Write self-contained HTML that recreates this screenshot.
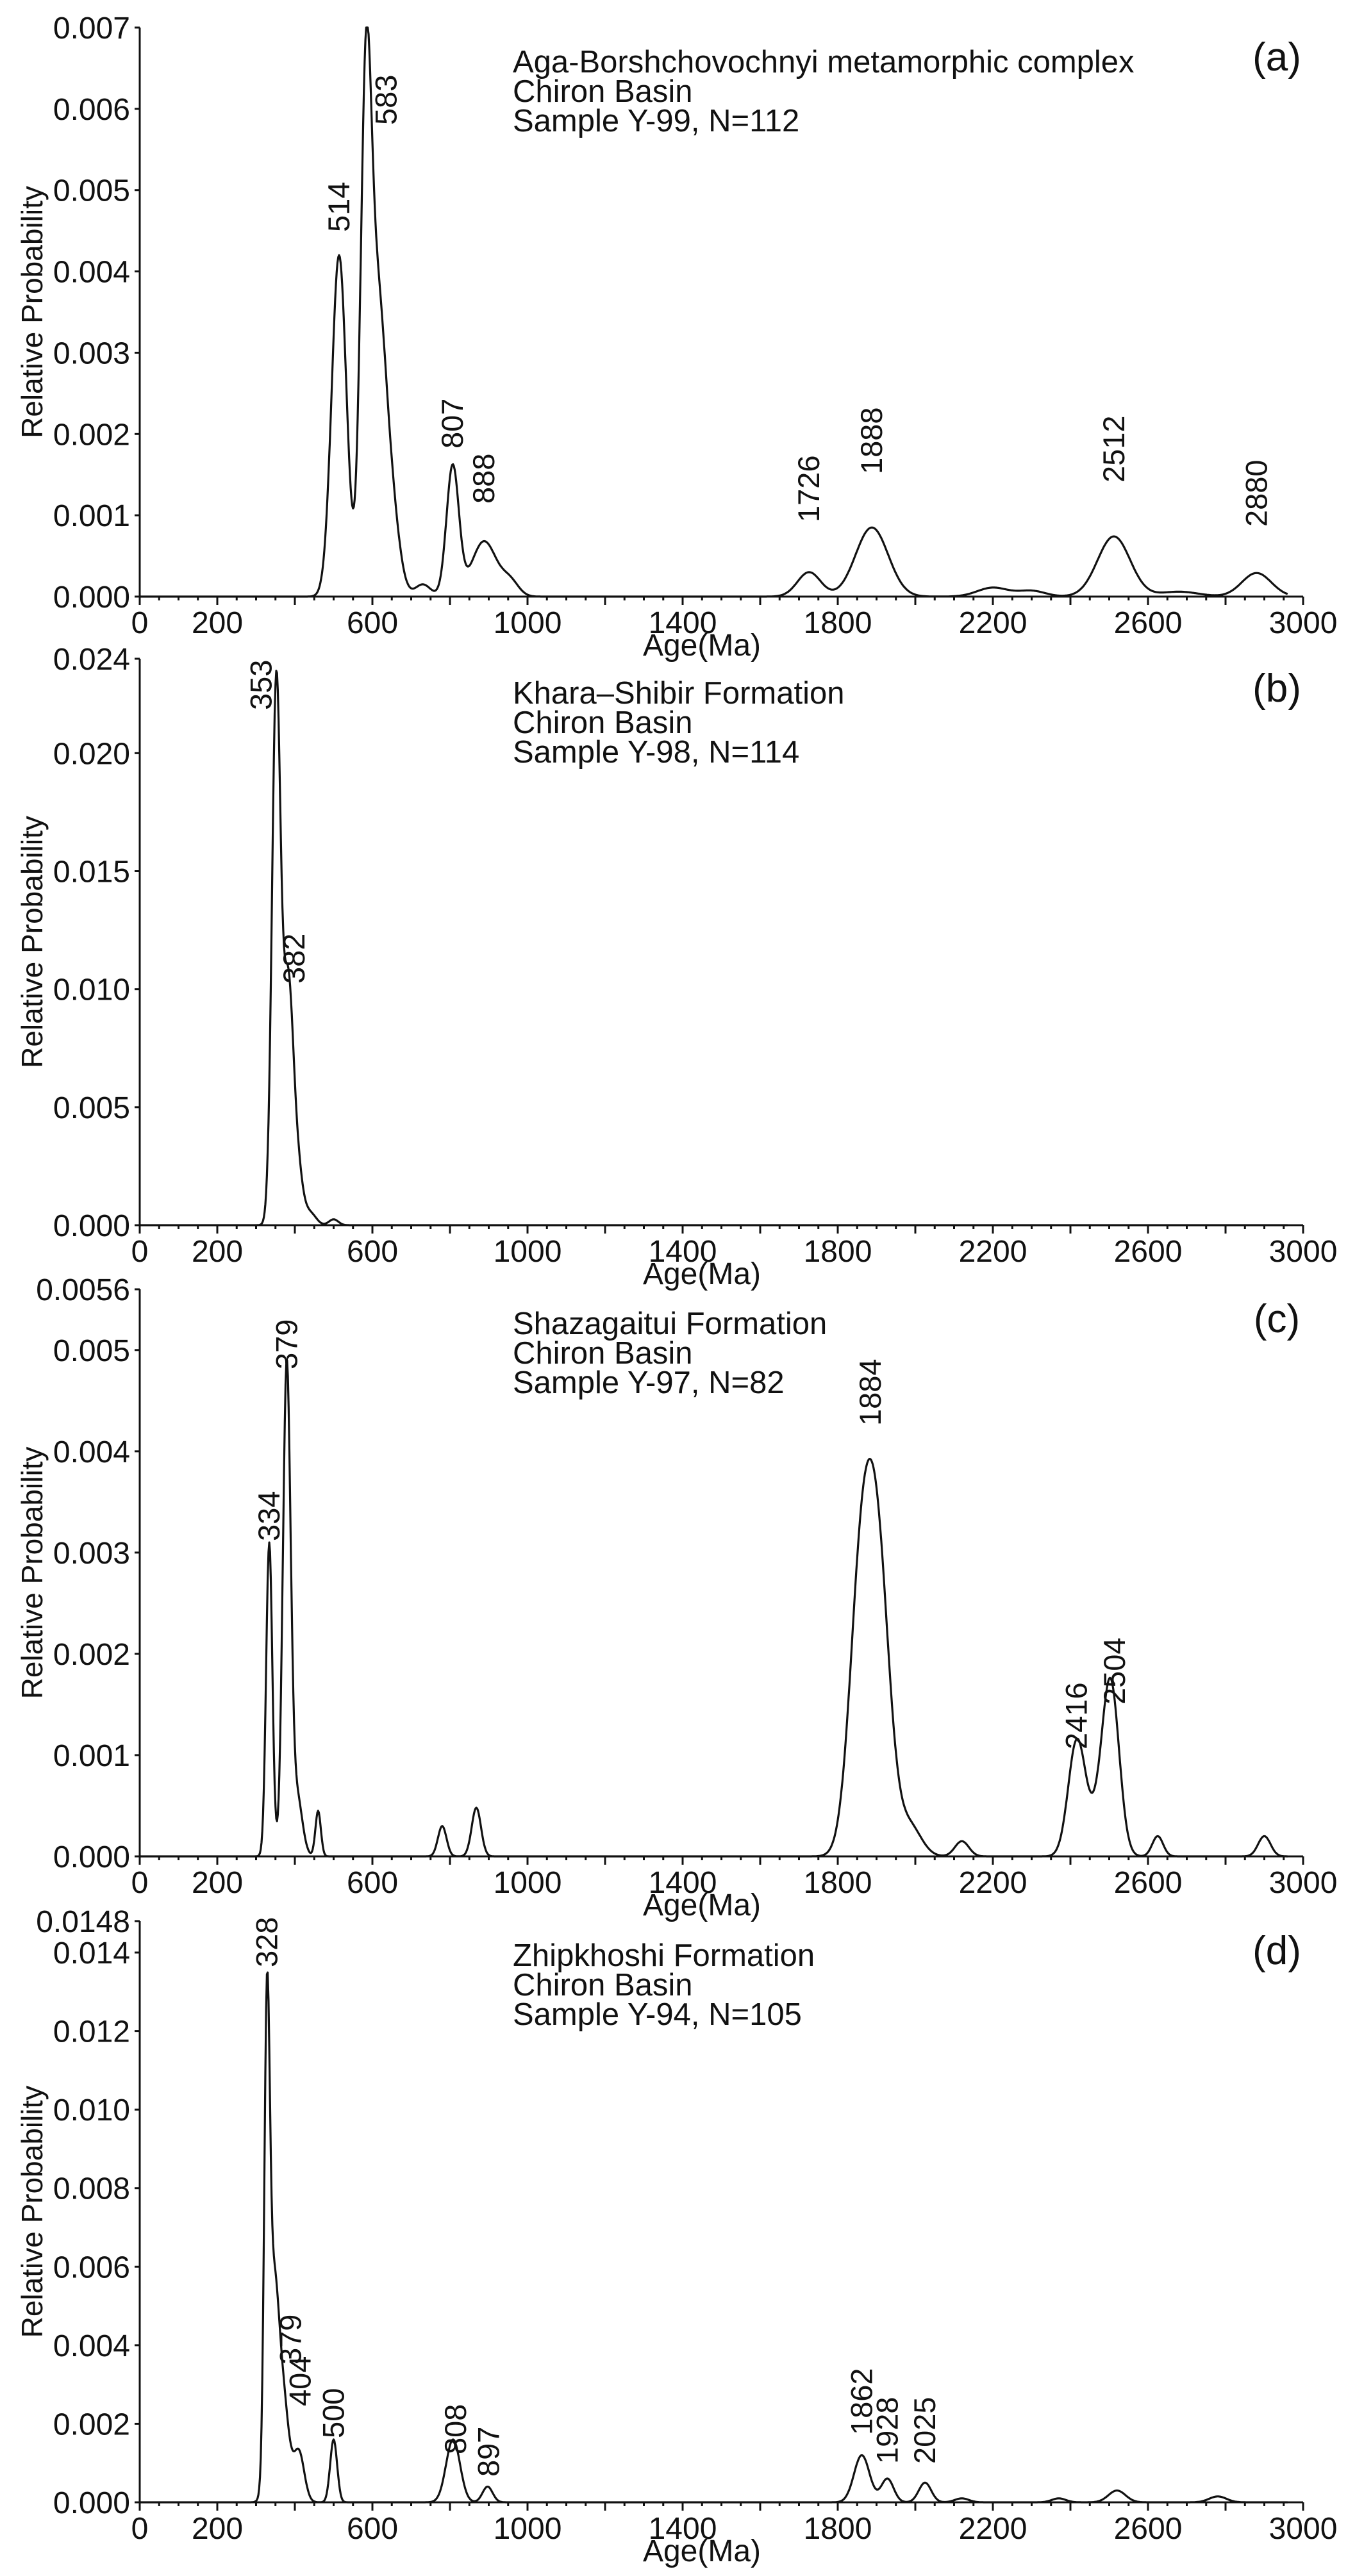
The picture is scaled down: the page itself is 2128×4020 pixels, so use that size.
<!DOCTYPE html>
<html><head><meta charset="utf-8"><style>
html,body{margin:0;padding:0;background:#fff;}
svg{display:block;}
text{font-family:"Liberation Sans",Arial,sans-serif;fill:#111;}
</style></head><body>
<svg id="s" width="2128" height="4020" viewBox="0 0 2128 4020" xmlns="http://www.w3.org/2000/svg"></svg>
<script>
const S=document.getElementById('s');
const X0=218,X1=2033;
const xm=m=>X0+(X1-X0)*m/3000;
let out='';
function g(x,mu,a,s){return a*Math.exp(-0.5*((x-mu)/s)**2);}
const panels=[
 {top:43,bot:931,ymax:0.007,step:0.001,dec:3,extraTop:null,
  title:["Aga-Borshchovochnyi metamorphic complex","Chiron Basin","Sample Y-99, N=112"],let:"(a)",
  comps:[[514,0.0042,19],[583,0.0058,14],[612,0.0032,20],[645,0.0012,22],[730,0.00015,20],[807,0.0016,16],[888,0.00068,32],[955,0.00018,22],[1726,0.0003,30],[1888,0.00085,42],[2200,0.00011,40],[2300,0.00007,35],[2512,0.00074,42],[2680,0.00006,50],[2880,0.00029,38]],
  labels:[[514,362],[583,195,32],[807,700],[888,786],[1726,815],[1888,740],[2512,753],[2880,822]]},
 {top:1028,bot:1912,ymax:0.024,step:0.005,dec:3,extraTop:"0.024",
  title:["Khara\u2013Shibir Formation","Chiron Basin","Sample Y-98, N=114"],let:"(b)",
  comps:[[352,0.0228,11],[382,0.0098,13],[405,0.0025,14],[440,0.0005,15],[500,0.00025,12]],
  labels:[[353,1108,-24],[382,1535,10]]},
 {top:2012,bot:2897,ymax:0.0056,step:0.001,dec:3,extraTop:"0.0056",
  title:["Shazagaitui Formation","Chiron Basin","Sample Y-97, N=82"],let:"(c)",
  comps:[[334,0.0031,8],[379,0.0048,10],[405,0.0006,14],[460,0.00045,7],[780,0.0003,11],[868,0.00048,12],[1860,0.0026,30],[1905,0.0026,30],[1985,0.0003,30],[2120,0.00015,18],[2416,0.0011,22],[2504,0.0016,22],[2470,0.0003,30],[2625,0.0002,14],[2900,0.0002,16]],
  labels:[[334,2405],[379,2137],[1884,2225],[2416,2730],[2504,2660,6]]},
 {top:2998,bot:3905,ymax:0.0148,step:0.002,dec:3,extraTop:"0.0148",
  title:["Zhipkhoshi Formation","Chiron Basin","Sample Y-94, N=105"],let:"(d)",
  comps:[[328,0.0108,7],[345,0.0055,14],[372,0.0022,14],[410,0.0013,14],[500,0.0016,9],[808,0.0016,18],[897,0.0004,13],[1862,0.0012,20],[1928,0.0006,16],[2025,0.0005,16],[2120,0.0001,18],[2370,0.0001,18],[2520,0.0003,22],[2780,0.00015,22]],
  labels:[[328,3070],[379,3690,6],[404,3755,6],[500,3805],[808,3830,4],[897,3865,2],[1862,3800],[1928,3845],[2025,3845]]}
];
panels.forEach(p=>{
 const H=p.bot-p.top, ys=v=>p.bot-H*v/p.ymax;
 out+=`<line x1="${X0}" y1="${p.top}" x2="${X0}" y2="${p.bot}" stroke="#111" stroke-width="3"/>`;
 out+=`<line x1="${X0}" y1="${p.bot}" x2="${X1}" y2="${p.bot}" stroke="#111" stroke-width="3"/>`;
 for(let v=0;v<=p.ymax+1e-9;v+=p.step){
  const y=ys(v);
  if(p.extraTop && Math.abs(v-p.ymax)<1e-9) continue;
  out+=`<line x1="${X0-8}" y1="${y}" x2="${X0}" y2="${y}" stroke="#111" stroke-width="3"/>`;
  out+=`<text x="203" y="${y+17}" font-size="48" text-anchor="end">${v.toFixed(p.dec)}</text>`;
 }
 if(p.extraTop){
  out+=`<line x1="${X0-8}" y1="${p.top}" x2="${X0}" y2="${p.top}" stroke="#111" stroke-width="3"/>`;
  out+=`<text x="203" y="${p.top+17}" font-size="48" text-anchor="end">${p.extraTop}</text>`;
 }
 for(let m=0;m<=3000;m+=50){
  const x=xm(m), major=(m%200===0);
  out+=`<line x1="${x}" y1="${p.bot}" x2="${x}" y2="${p.bot+(major?13:6)}" stroke="#111" stroke-width="3"/>`;
 }
 [0,200,600,1000,1400,1800,2200,2600,3000].forEach(m=>{
  out+=`<text x="${xm(m)}" y="${p.bot+57}" font-size="48" text-anchor="middle">${m}</text>`;
 });
 out+=`<text x="1095" y="${p.bot+92}" font-size="48" text-anchor="middle">Age(Ma)</text>`;
 const cy=(p.top+p.bot)/2;
 out+=`<text x="66" y="${cy}" font-size="46" text-anchor="middle" transform="rotate(-90 66 ${cy})">Relative Probability</text>`;
 p.title.forEach((t,i)=>{out+=`<text x="800" y="${p.top+70+i*46}" font-size="49">${t}</text>`;});
 out+=`<text x="1992" y="${p.top+67}" font-size="62" text-anchor="middle">${p.let}</text>`;
 let d='';
 for(let m=0;m<=2960;m+=2){
  let v=0;p.comps.forEach(c=>v+=g(m,c[0],c[1],c[2]));
  if(v>p.ymax)v=p.ymax;
  d+=(m?'L':'M')+xm(m).toFixed(1)+' '+ys(v).toFixed(1);
 }
 out+=`<path d="${d}" fill="none" stroke="#111" stroke-width="3.2" stroke-linejoin="round"/>`;
 p.labels.forEach(l=>{
  const x=xm(l[0])+(l[2]||0)+16, y=l[1];
  out+=`<text x="${x}" y="${y}" font-size="47" transform="rotate(-90 ${x} ${y})">${l[0]}</text>`;
 });
});
S.innerHTML=out;
</script>
</body></html>
